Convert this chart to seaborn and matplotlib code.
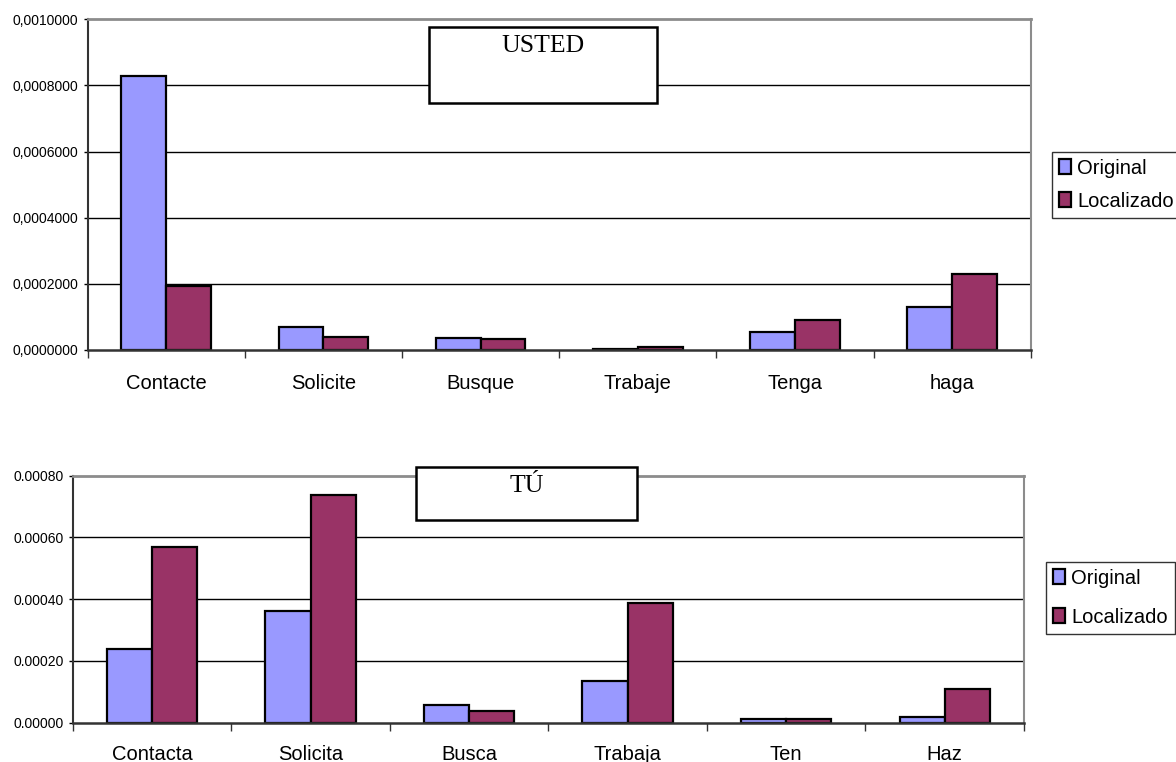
import matplotlib
matplotlib.use("Agg")
import matplotlib.pyplot as plt
from matplotlib.patches import Patch, Rectangle
import numpy as np
import pandas as pd
import seaborn as sns

# ---- data -------------------------------------------------------------
series_names = ["Original", "Localizado"]

usted_verbs = ["Contacte", "Solicite", "Busque", "Trabaje", "Tenga", "haga"]
usted_original = [0.000830, 0.000069, 0.000035, 0.000003, 0.000054, 0.000129]
usted_localizado = [0.000195, 0.000040, 0.000032, 0.000010, 0.000090, 0.000229]
usted_ticks = [0.0, 0.0002, 0.0004, 0.0006, 0.0008, 0.0010]
usted_tick_labels = ["0,0000000", "0,0002000", "0,0004000",
                     "0,0006000", "0,0008000", "0,0010000"]

tu_verbs = ["Contacta", "Solicita", "Busca", "Trabaja", "Ten", "Haz"]
tu_original = [0.000240, 0.000363, 0.000058, 0.000135, 0.000012, 0.000019]
tu_localizado = [0.000569, 0.000737, 0.000038, 0.000388, 0.000012, 0.000109]
tu_ticks = [0.0, 0.0002, 0.0004, 0.0006, 0.0008]
tu_tick_labels = ["0.00000", "0.00020", "0.00040", "0.00060", "0.00080"]

colors = {"Original": "#9999FF", "Localizado": "#993366"}

plt.rcParams["font.family"] = ["Liberation Sans", "DejaVu Sans"]

fig = plt.figure(figsize=(11.76, 7.62), dpi=100)
W, H = 1176, 762


def px_axes(left, top, right, bottom):
    return fig.add_axes([left / W, 1 - bottom / H, (right - left) / W, (bottom - top) / H])


def long_frame(verbs, orig, loc):
    return pd.DataFrame({
        "verbo": verbs * 2,
        "serie": ["Original"] * len(verbs) + ["Localizado"] * len(verbs),
        "valor": list(orig) + list(loc),
    })


def draw_panel(ax, verbs, orig, loc, ticks, tick_labels, title, title_box,
               legend_box, label_spacing, xpad):
    df = long_frame(verbs, orig, loc)
    sns.barplot(data=df, x="verbo", y="valor", hue="serie", order=verbs,
                hue_order=series_names, palette=colors, width=0.57,
                edgecolor="black", linewidth=1.6, legend=False, ax=ax,
                errorbar=None, saturation=1)
    ax.set_xlim(-0.5, len(verbs) - 0.5)
    ax.set_ylim(ticks[0], ticks[-1])
    ax.set_xlabel("")
    ax.set_ylabel("")

    ax.set_yticks(ticks, tick_labels)
    ax.tick_params(axis="y", length=3, width=1, direction="out", pad=3.5,
                   labelsize=10, color="black")
    ax.set_xticks(range(len(verbs)), verbs)
    ax.tick_params(axis="x", which="major", length=0, pad=xpad, labelsize=14.5)
    ax.set_xticks(np.arange(-0.5, len(verbs)), minor=True)
    ax.tick_params(axis="x", which="minor", length=6, width=1, direction="out", color="#333333")

    for t in ticks[1:-1]:
        ax.axhline(t, color="black", linewidth=1, zorder=0)
    ax.grid(False)
    ax.spines["top"].set_color("#8c8c8c")
    ax.spines["right"].set_color("#8c8c8c")
    ax.spines["top"].set_linewidth(2)
    ax.spines["right"].set_linewidth(1.5)
    ax.spines["left"].set_color("#333333")
    ax.spines["bottom"].set_color("#333333")
    ax.spines["left"].set_linewidth(1.5)
    ax.spines["bottom"].set_linewidth(1.8)
    ax.set_facecolor("white")

    # title box
    bl, bt, br, bb = title_box
    fig.patches.append(Rectangle((bl / W, 1 - bb / H), (br - bl) / W, (bb - bt) / H,
                                 transform=fig.transFigure, facecolor="white",
                                 edgecolor="black", linewidth=1.8, zorder=5))
    fig.text((bl + br) / 2 / W, 1 - (bt + 8) / H, title, ha="center", va="top",
             family=["Liberation Serif", "DejaVu Serif"], fontsize=18.5, zorder=6)

    handles = [Patch(facecolor=colors[s], edgecolor="black", linewidth=1.6, label=s)
               for s in series_names]
    fig.legend(handles=handles, loc="upper left",
               bbox_to_anchor=(legend_box[0] / W, 1 - legend_box[1] / H),
               frameon=True, fancybox=False, edgecolor="black", fontsize=14.5,
               handlelength=0.6, handleheight=0.75, handletextpad=0.3,
               labelspacing=label_spacing, borderpad=0.35, borderaxespad=0)


ax1 = px_axes(87.6, 19.3, 1030.7, 350)
draw_panel(ax1, usted_verbs, usted_original, usted_localizado, usted_ticks,
           usted_tick_labels, "USTED", (429, 27, 657, 103), (1052, 151.7), 0.7, 17)

ax2 = px_axes(72.7, 475.7, 1024, 722.7)
draw_panel(ax2, tu_verbs, tu_original, tu_localizado, tu_ticks,
           tu_tick_labels, "TÚ", (416, 467, 637, 520), (1046, 561.7), 1.0, 16)

fig.savefig("out.png", dpi=100, facecolor="white")
